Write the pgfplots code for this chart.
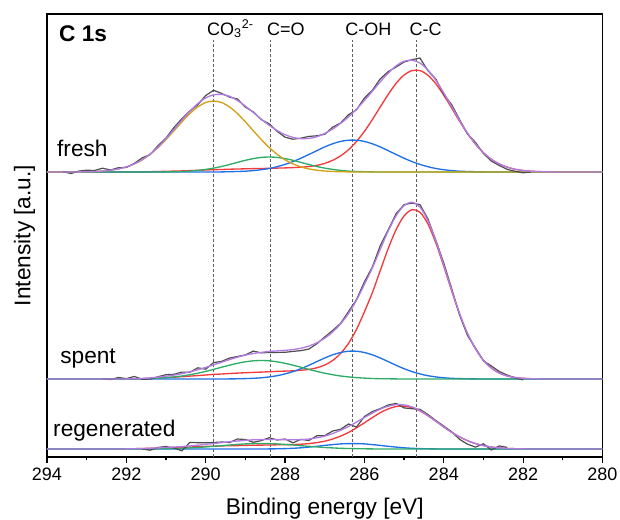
\documentclass[border=0pt]{standalone}
\usepackage{pgfplots}
\usepackage{pgfplotstable}
\pgfplotsset{compat=1.18}
\usepackage{fontspec}
\setmainfont{Liberation Sans}

\definecolor{rawc}{RGB}{77,77,77}
\definecolor{envc}{RGB}{178,124,226}
\definecolor{ccc}{RGB}{244,58,58}
\definecolor{cohc}{RGB}{32,112,230}
\definecolor{coc}{RGB}{46,172,104}
\definecolor{cotc}{RGB}{212,160,22}

% fitted components and envelope, fresh sample (x = binding energy)
\pgfplotstableread{
x cc coh co co3 env
294.0 0 0 0 0 0
293.6 0 0 0 0 0
293.4 0 0 0 0 0
293.2 0 0 0 0.1 0.1
293.0 0 0 0 0.3 0.3
292.8 0 0 0 0.5 0.5
292.6 0 0 0 1.0 1.0
292.4 0 0 0 1.8 1.8
292.2 0 0 0 3.1 3.1
292.0 0 0 0 5.1 5.1
291.8 0 0 0 8.1 8.1
291.6 0.1 0 0 12.2 12.3
291.4 0.3 0 0 17.7 18.0
291.2 0.5 0 0 24.5 25.0
291.0 0.7 0 0.1 32.5 33.3
290.8 0.9 0 0.3 41.3 42.5
290.6 1.1 0 0.5 50.2 51.8
290.4 1.4 0 0.9 58.4 60.7
290.2 1.7 0 1.6 65.1 68.4
290.0 2.0 0 2.6 69.5 74.1
289.8 2.3 0 3.9 71.0 77.2
289.6 2.5 0.1 5.5 69.5 77.6
289.4 2.8 0.3 7.5 65.1 75.7
289.2 3.0 0.5 9.6 58.4 71.5
289.0 3.2 0.8 11.7 50.2 65.9
288.8 3.4 1.4 13.4 41.3 59.5
288.6 3.5 2.3 14.6 32.5 52.9
288.4 3.7 3.5 15.0 24.5 46.7
288.2 3.9 5.3 14.6 17.7 41.5
288.0 4.1 7.6 13.4 12.2 37.3
287.8 4.4 10.4 11.7 8.1 34.6
287.6 4.8 13.8 9.6 5.1 33.3
287.4 5.5 17.5 7.5 3.1 33.6
287.2 6.6 21.3 5.5 1.8 35.2
287.0 8.6 25.1 3.9 1.0 38.6
286.8 11.7 28.2 2.6 0.5 43.0
286.6 16.1 30.6 1.6 0.3 48.6
286.4 22.3 31.8 0.9 0.1 55.1
286.2 30.5 31.8 0.5 0 62.8
286.0 40.6 30.6 0.3 0 71.5
285.8 52.4 28.2 0.1 0 80.7
285.6 65.1 25.1 0 0 90.2
285.4 77.6 21.3 0 0 98.9
285.2 88.7 17.5 0 0 106.2
285.0 97.0 13.8 0 0 110.8
284.8 101.4 10.4 0 0 111.8
284.6 101.4 7.6 0 0 109.0
284.4 96.8 5.3 0 0 102.1
284.2 88.3 3.5 0 0 91.8
284.0 76.8 2.3 0 0 79.1
283.8 63.9 1.4 0 0 65.3
283.6 50.7 0.8 0 0 51.5
283.4 38.4 0.5 0 0 38.9
283.2 27.8 0.3 0 0 28.1
283.0 19.2 0.1 0 0 19.3
282.8 12.7 0 0 0 12.7
282.6 8.0 0 0 0 8.0
282.4 4.8 0 0 0 4.8
282.2 2.7 0 0 0 2.7
282.0 1.5 0 0 0 1.5
281.8 0.8 0 0 0 0.8
281.6 0.4 0 0 0 0.4
281.4 0.2 0 0 0 0.2
281.2 0 0 0 0 0
280.0 0 0 0 0 0
}\fresh

\pgfplotstableread{
x y
293.6 0.5
293.4 -1.5
293.2 0.9
293.0 1.8
292.8 1.5
292.6 3.8
292.4 2.0
292.2 4.3
292.0 4.5
291.8 8.6
291.6 14.1
291.4 17.5
291.2 26.4
291.0 33.9
290.8 44.5
290.6 53.3
290.4 61.0
290.2 67.2
290.0 76.5
289.8 81.7
289.6 78.6
289.4 74.9
289.2 73.0
289.0 64.9
288.8 60.1
288.6 52.4
288.4 48.2
288.2 40.7
288.0 34.8
287.8 32.8
287.6 33.8
287.4 35.6
287.2 36.2
287.0 37.7
286.8 44.8
286.6 49.0
286.4 57.3
286.2 62.2
286.0 74.0
285.8 81.7
285.6 93.2
285.4 100.4
285.2 105.0
285.0 110.0
284.8 112.3
284.6 114.0
284.4 101.3
284.2 93.0
284.0 77.7
283.8 67.3
283.6 52.3
283.4 37.9
283.2 29.6
283.0 18.5
282.8 10.9
282.6 6.5
282.4 2.6
282.2 0.7
282.0 -0.8
281.8 0.0
}\freshraw

% spent sample
\pgfplotstableread{
x cc coh co env
294.0 0 0 0 0
292.4 0 0 0 0
292.2 0 0 0 0
292.0 0 0 0.1 0.1
291.8 0.1 0 0.2 0.3
291.6 0.3 0 0.3 0.6
291.4 0.6 0 0.5 1.1
291.2 1.0 0 0.9 1.9
291.0 1.4 0 1.4 2.8
290.8 1.8 0 2.1 3.9
290.6 2.3 0 3.0 5.3
290.4 2.9 0 4.3 7.2
290.2 3.4 0 5.8 9.2
290.0 4.0 0 7.6 11.6
289.8 4.6 0 9.6 14.2
289.6 5.0 0 11.8 16.8
289.4 5.5 0.1 13.8 19.4
289.2 5.9 0.2 15.7 21.8
289.0 6.3 0.4 17.2 23.9
288.8 6.6 0.7 18.2 25.5
288.6 6.9 1.2 18.5 26.6
288.4 7.3 2.1 18.2 27.6
288.2 7.6 3.3 17.2 28.1
288.0 7.9 5.1 15.7 28.7
287.8 8.2 7.4 13.8 29.4
287.6 8.7 10.3 11.8 30.8
287.4 9.6 13.7 9.6 32.9
287.2 11.2 17.4 7.6 36.2
287.0 14.0 21.0 5.8 40.8
286.8 18.5 24.2 4.3 47.0
286.6 25.6 26.5 3.0 55.1
286.4 35.7 27.8 2.1 65.6
286.2 49.6 27.8 1.4 78.8
286.0 67.2 26.5 0.9 94.6
285.8 86.3 24.2 0.5 111.0
285.6 108.5 21.0 0.3 129.8
285.4 130.4 17.4 0.2 148.0
285.2 149.5 13.7 0.1 163.3
285.0 163.1 10.3 0 173.4
284.8 169.3 7.4 0 176.7
284.6 166.8 5.1 0 171.9
284.4 155.1 3.3 0 158.4
284.2 136.1 2.1 0 138.2
284.0 112.7 1.2 0 113.9
283.8 88.1 0.7 0 88.8
283.6 65.0 0.4 0 65.4
283.4 45.2 0.2 0 45.4
283.2 30.3 0.1 0 30.4
283.0 18.7 0 0 18.7
282.8 11.0 0 0 11.0
282.6 6.0 0 0 6.0
282.4 3.1 0 0 3.1
282.2 1.5 0 0 1.5
282.0 0.7 0 0 0.7
281.8 0.3 0 0 0.3
281.6 0.1 0 0 0.1
281.4 0 0 0 0
280.0 0 0 0 0
}\spent

\pgfplotstableread{
x y
292.6 0.4
292.4 -0.6
292.2 1.5
292.0 0.4
291.8 2.5
291.6 -0.2
291.4 -0.1
291.2 2.3
291.0 4.3
290.8 4.7
290.6 6.9
290.4 6.7
290.2 11.2
290.0 9.8
289.8 16.4
289.6 17.6
289.4 20.9
289.2 22.5
289.0 24.1
288.8 27.9
288.6 26.1
288.4 26.6
288.2 26.6
288.0 26.7
287.8 27.6
287.6 28.4
287.4 29.9
287.2 35.2
287.0 42.0
286.8 48.5
286.6 55.6
286.4 67.4
286.2 79.4
286.0 97.1
285.8 112.0
285.6 133.3
285.4 149.2
285.2 165.3
285.0 174.4
284.8 175.9
284.6 174.4
284.4 160.2
284.2 138.7
284.0 116.1
283.8 90.3
283.6 63.9
283.4 43.4
283.2 30.9
283.0 18.2
282.8 13.0
282.6 7.5
282.4 3.9
282.2 1.0
282.0 -0.8
}\spentraw

% regenerated sample
\pgfplotstableread{
x cc coh co env
294.0 0 0 0 0
292.4 0 0 0 0
292.2 0 0 0 0
292.0 0.1 0 0 0.1
291.8 0.3 0 0 0.3
291.6 0.5 0 0 0.5
291.4 0.7 0 0.1 0.8
291.2 0.9 0 0.2 1.1
291.0 1.2 0 0.3 1.5
290.8 1.5 0 0.5 2.0
290.6 1.7 0 0.7 2.4
290.4 2.0 0 1.1 3.1
290.2 2.3 0 1.5 3.8
290.0 2.6 0 2.1 4.7
289.8 2.8 0 2.7 5.5
289.6 3.1 0 3.3 6.4
289.4 3.3 0 4.0 7.3
289.2 3.4 0 4.6 8.0
289.0 3.6 0 5.1 8.7
288.8 3.8 0 5.4 9.2
288.6 3.9 0 5.5 9.4
288.4 4.0 0.1 5.4 9.5
288.2 4.2 0.2 5.1 9.5
288.0 4.3 0.4 4.6 9.3
287.8 4.5 0.7 4.0 9.2
287.6 4.8 1.2 3.3 9.3
287.4 5.4 1.9 2.7 10.0
287.2 6.4 2.7 2.1 11.2
287.0 7.8 3.6 1.5 12.9
286.8 10.0 4.4 1.1 15.5
286.6 12.9 5.1 0.7 18.7
286.4 16.6 5.4 0.5 22.5
286.2 21.2 5.4 0.3 26.9
286.0 26.2 5.1 0.2 31.5
285.8 31.4 4.4 0.1 35.9
285.6 36.3 3.6 0 39.9
285.4 40.1 2.7 0 42.8
285.2 42.5 1.9 0 44.4
285.0 42.9 1.2 0 44.1
284.8 41.4 0.7 0 42.1
284.6 38.1 0.4 0 38.5
284.4 33.3 0.2 0 33.5
284.2 27.8 0.1 0 27.9
284.0 22.1 0 0 22.1
283.8 16.7 0 0 16.7
283.6 12.1 0 0 12.1
283.4 8.3 0 0 8.3
283.2 5.4 0 0 5.4
283.0 3.4 0 0 3.4
282.8 2.0 0 0 2.0
282.6 1.1 0 0 1.1
282.4 0.6 0 0 0.6
282.2 0.3 0 0 0.3
282.0 0.1 0 0 0.1
281.8 0 0 0 0
280.0 0 0 0 0
}\regen

\pgfplotstableread{
x y
291.6 0.0
291.4 -1.2
291.2 1.6
291.0 2.5
290.8 1.0
290.6 -1.8
290.4 6.6
290.2 6.3
290.0 6.2
289.8 6.5
289.6 7.0
289.4 6.5
289.2 10.0
289.0 9.5
288.8 6.7
288.6 8.4
288.4 11.3
288.2 9.0
288.0 10.0
287.8 6.2
287.6 9.7
287.4 8.5
287.2 13.2
287.0 13.4
286.8 18.0
286.6 19.7
286.4 25.0
286.2 21.9
286.0 32.5
285.8 37.4
285.6 40.4
285.4 44.0
285.2 45.6
285.0 41.1
284.8 40.3
284.6 39.7
284.4 34.5
284.2 28.5
284.0 22.9
283.8 17.2
283.6 9.6
283.4 4.8
283.2 1.9
283.0 5.2
282.8 -1.0
282.6 3.1
282.4 1.6
}\regenraw

\begin{document}
\begin{tikzpicture}
\useasboundingbox (-35.25pt,-46.5pt) rectangle (429.75pt,342.75pt);
\begin{axis}[
  at={(0,0)}, anchor=south west,
  scale only axis, width=416.6pt, height=332.25pt,
  x dir=reverse, xmin=280, xmax=294, ymin=0, ymax=443,
  axis line style={line width=1.1pt},
  xtick={280,282,...,294}, minor xtick={281,283,...,293},
  ytick=\empty,
  xtick pos=bottom, tick align=outside,
  major tick length=4.5pt, minor tick length=2.6pt,
  every tick/.style={black, line width=0.9pt},
  /pgf/number format/assume math mode=true,
  xticklabel style={font=\fontsize{13.5}{16}\selectfont},
  xlabel={Binding energy [eV]}, ylabel={Intensity [a.u.]},
  label style={font=\fontsize{17}{20}\selectfont},
  xlabel style={at={(axis description cs:0.5,0)}, anchor=base, yshift=-42.75pt},
  ylabel style={at={(axis description cs:0,0.5)}, anchor=base, rotate=0, yshift=12.4pt},
  clip=false,
  every axis plot/.append style={line width=1pt},
]
% peak position markers
\addplot[rawc!90, dashed, line width=0.6pt, dash pattern=on 2.25pt off 1.5pt] coordinates {(289.8,0) (289.8,417)};
\addplot[rawc!90, dashed, line width=0.6pt, dash pattern=on 2.25pt off 1.5pt] coordinates {(288.36,0) (288.36,417)};
\addplot[rawc!90, dashed, line width=0.6pt, dash pattern=on 2.25pt off 1.5pt] coordinates {(286.3,0) (286.3,417)};
\addplot[rawc!90, dashed, line width=0.6pt, dash pattern=on 2.25pt off 1.5pt] coordinates {(284.7,0) (284.7,417)};

% fresh (offset 285)
\addplot[ccc, smooth] table[x=x, y expr=\thisrow{cc}+285] {\fresh};
\addplot[cohc, smooth] table[x=x, y expr=\thisrow{coh}+285] {\fresh};
\addplot[coc, smooth] table[x=x, y expr=\thisrow{co}+285] {\fresh};
\addplot[cotc, smooth] table[x=x, y expr=\thisrow{co3}+285] {\fresh};
\addplot[rawc, line width=0.9pt] table[x=x, y expr=\thisrow{y}+285] {\freshraw};
\addplot[envc, smooth] table[x=x, y expr=\thisrow{env}+285] {\fresh};

% spent (offset 78)
\addplot[ccc, smooth] table[x=x, y expr=\thisrow{cc}+78] {\spent};
\addplot[cohc, smooth] table[x=x, y expr=\thisrow{coh}+78] {\spent};
\addplot[coc, smooth] table[x=x, y expr=\thisrow{co}+78] {\spent};
\addplot[rawc, line width=0.9pt] table[x=x, y expr=\thisrow{y}+78] {\spentraw};
\addplot[envc, smooth] table[x=x, y expr=\thisrow{env}+78] {\spent};

% regenerated (offset 8)
\addplot[ccc, smooth] table[x=x, y expr=\thisrow{cc}+8] {\regen};
\addplot[cohc, smooth] table[x=x, y expr=\thisrow{coh}+8] {\regen};
\addplot[coc, smooth] table[x=x, y expr=\thisrow{co}+8] {\regen};
\addplot[rawc, line width=0.9pt] table[x=x, y expr=\thisrow{y}+8] {\regenraw};
\addplot[envc, smooth] table[x=x, y expr=\thisrow{env}+8] {\regen};

\begin{scope}[every node/.style={inner sep=0pt, anchor=base west}]
\node[font=\bfseries\fontsize{17}{20}\selectfont] at (axis cs:293.70,416) {C 1s};
\node[font=\fontsize{17}{20}\selectfont] at (axis cs:293.75,300.3) {fresh};
\node[font=\fontsize{17}{20}\selectfont] at (axis cs:293.67,93.7) {spent};
\node[font=\fontsize{17}{20}\selectfont] at (axis cs:293.85,20.3) {regenerated};
\node[font=\fontsize{13.5}{16}\selectfont, xshift=-5pt] at (axis cs:289.8,422) {CO\textsubscript{3}\textsuperscript{2-}};
\node[font=\fontsize{13.5}{16}\selectfont, xshift=-3pt] at (axis cs:288.36,422) {C=O};
\node[font=\fontsize{13.5}{16}\selectfont, xshift=-5.5pt] at (axis cs:286.3,422) {C-OH};
\node[font=\fontsize{13.5}{16}\selectfont, xshift=-5pt] at (axis cs:284.7,422) {C-C};
\end{scope}
\end{axis}
\end{tikzpicture}
\end{document}
